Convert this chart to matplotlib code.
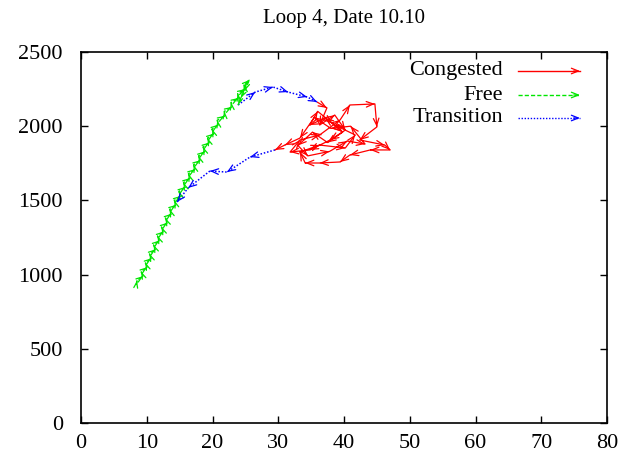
import matplotlib
matplotlib.use("Agg")
import matplotlib.pyplot as plt
from matplotlib.patches import FancyArrowPatch

# ---- data (occupancy vs flow trajectory) ----
free_x = [8.4, 8.52, 9.44, 9.15, 10.07, 9.79, 10.71, 10.42, 11.34, 11.04, 11.94, 11.64,
          12.55, 12.25, 13.15, 12.85, 13.75, 13.50, 14.44, 14.20, 15.15, 14.90, 15.85,
          15.60, 16.57, 16.35, 17.34, 17.13, 18.12, 17.89, 18.83, 18.57, 19.51, 19.25,
          20.19, 19.93, 20.87, 20.73, 21.86, 21.80, 22.93, 22.83, 23.95, 23.83, 24.92,
          24.80, 25.6, 24.9, 24.3, 23.9]
free_y = [930, 960, 990, 1020, 1050, 1080, 1110, 1140, 1170, 1200, 1230, 1260,
          1290, 1320, 1350, 1380, 1410, 1440, 1470, 1500, 1530, 1560, 1590,
          1620, 1650, 1680, 1710, 1740, 1770, 1800, 1830, 1860, 1890, 1920,
          1950, 1980, 2010, 2040, 2070, 2100, 2130, 2160, 2190, 2220, 2250,
          2280, 2311, 2240, 2190, 2143]

trans1_x = [23.9, 26.5, 29.2, 31.5, 34.4, 35.9]
trans1_y = [2143, 2230, 2264, 2230, 2197, 2163]

cong_x = [35.9, 37.4, 36.3, 38.6, 40.2, 37.9, 34.8, 31.8, 33.3, 36.3, 39.4, 40.9, 44.7,
          45.0, 42.4, 46.2, 47.0, 44.0, 40.9, 39.4, 36.3, 34.1, 33.3, 36.3, 40.2, 41.7,
          38.6, 37.1, 34.8, 36.0, 38.2, 39.8, 37.5, 35.2, 33.0, 34.5, 37.8, 40.5, 43.2,
          41.0, 38.0, 35.5, 33.3, 31.0, 29.5]
cong_y = [2163, 2123, 2008, 2075, 1974, 1907, 1840, 1826, 1907, 1941, 2042, 2143, 2150,
          1995, 1907, 1873, 1840, 1840, 1806, 1759, 1752, 1752, 1826, 1873, 1853, 1941,
          2008, 2055, 2008, 2100, 2020, 1960, 1890, 1960, 1870, 1800, 1830, 1900, 1880,
          2000, 1985, 2060, 1920, 1873, 1840]

trans2_x = [29.5, 25.7, 22.2, 19.6, 16.3, 14.6]
trans2_y = [1840, 1792, 1691, 1698, 1584, 1489]

xticks = [0, 10, 20, 30, 40, 50, 60, 70, 80]
yticks = [0, 500, 1000, 1500, 2000, 2500]

plt.rcParams['font.family'] = ['Liberation Serif', 'DejaVu Serif']

fig = plt.figure(figsize=(6.27, 4.59), dpi=100)
ax = fig.add_axes([81/627, 1-423/459, (607-81)/627, (423-52)/459])

RED = '#ff0000'
GREEN = '#00e600'
BLUE = '#0000ff'
HEAD = '->,head_length=0.5,head_width=0.2'
HEAD_SMALL = '->,head_length=0.4,head_width=0.14'


def draw_vectors(xs, ys, color, dashes, lw, head):
    ax.plot(xs, ys, color=color, lw=lw, dashes=dashes, solid_capstyle='butt')
    for i in range(1, len(xs)):
        x0, y0, x1, y1 = xs[i-1], ys[i-1], xs[i], ys[i]
        ax.annotate('', xy=(x1, y1), xytext=(x0 + 0.97*(x1-x0), y0 + 0.97*(y1-y0)),
                    arrowprops=dict(arrowstyle=head, color=color, lw=0.9,
                                    shrinkA=0, shrinkB=0, mutation_scale=10))


draw_vectors(free_x, free_y, GREEN, (3, 1.5), 1.0, HEAD_SMALL)
draw_vectors(trans1_x, trans1_y, BLUE, (1, 1.2), 1.1, HEAD)
draw_vectors(trans2_x, trans2_y, BLUE, (1, 1.2), 1.1, HEAD)
draw_vectors(cong_x, cong_y, RED, (None, None), 0.9, HEAD)

ax.set_xlim(0, 80)
ax.set_ylim(0, 2500)
ax.set_xticks(xticks)
ax.set_yticks(yticks)
ax.tick_params(direction='in', length=5, width=1, top=True, right=True,
               labelsize=16, colors='black')
ax.tick_params(axis='y', pad=13)
ax.tick_params(axis='x', pad=8)
for s in ax.spines.values():
    s.set_linewidth(1.2)

fig.text((81+607)/2/627, 1-18/459, 'Loop 4, Date 10.10', ha='center', va='center', fontsize=15)

# legend (gnuplot style: text right-aligned, sample to the right)
leg = [('Congested', RED, (None, None), 71), ('Free', GREEN, (3, 1.5), 95),
       ('Transition', BLUE, (1, 1.2), 118)]
for label, c, d, py in leg:
    yf = 1 - py/459
    fig.text(503/627, yf, label, ha='right', va='center', fontsize=16)
    x0f, x1f = 518/627, 580/627
    fig.add_artist(plt.Line2D([x0f, x1f], [yf, yf], color=c, lw=1.0,
                              dashes=d, transform=fig.transFigure))
    fig.add_artist(FancyArrowPatch((x1f-0.01, yf), (x1f, yf), transform=fig.transFigure,
                   arrowstyle=HEAD, mutation_scale=10, color=c, lw=0.9,
                   shrinkA=0, shrinkB=0))

fig.savefig('out.png', dpi=100)
